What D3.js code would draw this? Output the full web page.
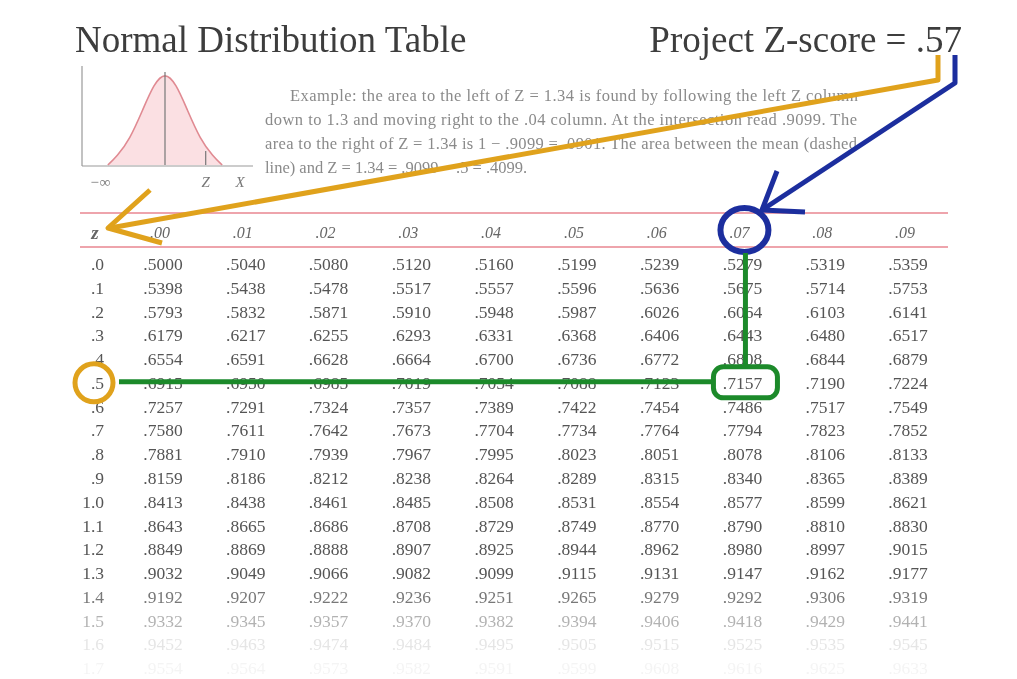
<!DOCTYPE html>
<html>
<head>
<meta charset="utf-8">
<script src="https://cdn.jsdelivr.net/npm/d3@7"></script>
<style>
  body { margin: 0; background: #fff; }
  svg { display: block; font-family: "Liberation Serif", "DejaVu Serif", serif; }
</style>
</head>
<body>
<svg id="chart" width="1017" height="679"></svg>
<script>
const rowLabels = ['.0', '.1', '.2', '.3', '.4', '.5', '.6', '.7', '.8', '.9',
  '1.0', '1.1', '1.2', '1.3', '1.4', '1.5', '1.6', '1.7'];
const colLabels = ['.00', '.01', '.02', '.03', '.04', '.05', '.06', '.07', '.08', '.09'];
const tableValues = [
  ['.5000', '.5040', '.5080', '.5120', '.5160', '.5199', '.5239', '.5279', '.5319', '.5359'],
  ['.5398', '.5438', '.5478', '.5517', '.5557', '.5596', '.5636', '.5675', '.5714', '.5753'],
  ['.5793', '.5832', '.5871', '.5910', '.5948', '.5987', '.6026', '.6064', '.6103', '.6141'],
  ['.6179', '.6217', '.6255', '.6293', '.6331', '.6368', '.6406', '.6443', '.6480', '.6517'],
  ['.6554', '.6591', '.6628', '.6664', '.6700', '.6736', '.6772', '.6808', '.6844', '.6879'],
  ['.6915', '.6950', '.6985', '.7019', '.7054', '.7088', '.7123', '.7157', '.7190', '.7224'],
  ['.7257', '.7291', '.7324', '.7357', '.7389', '.7422', '.7454', '.7486', '.7517', '.7549'],
  ['.7580', '.7611', '.7642', '.7673', '.7704', '.7734', '.7764', '.7794', '.7823', '.7852'],
  ['.7881', '.7910', '.7939', '.7967', '.7995', '.8023', '.8051', '.8078', '.8106', '.8133'],
  ['.8159', '.8186', '.8212', '.8238', '.8264', '.8289', '.8315', '.8340', '.8365', '.8389'],
  ['.8413', '.8438', '.8461', '.8485', '.8508', '.8531', '.8554', '.8577', '.8599', '.8621'],
  ['.8643', '.8665', '.8686', '.8708', '.8729', '.8749', '.8770', '.8790', '.8810', '.8830'],
  ['.8849', '.8869', '.8888', '.8907', '.8925', '.8944', '.8962', '.8980', '.8997', '.9015'],
  ['.9032', '.9049', '.9066', '.9082', '.9099', '.9115', '.9131', '.9147', '.9162', '.9177'],
  ['.9192', '.9207', '.9222', '.9236', '.9251', '.9265', '.9279', '.9292', '.9306', '.9319'],
  ['.9332', '.9345', '.9357', '.9370', '.9382', '.9394', '.9406', '.9418', '.9429', '.9441'],
  ['.9452', '.9463', '.9474', '.9484', '.9495', '.9505', '.9515', '.9525', '.9535', '.9545'],
  ['.9554', '.9564', '.9573', '.9582', '.9591', '.9599', '.9608', '.9616', '.9625', '.9633']
];
// bell curve icon (z, height)
const curvePoints = [[-2.6, 0], [-2.2, 0.035], [-1.6, 0.11], [-1, 0.24], [-0.5, 0.35],
  [0, 0.4], [0.5, 0.35], [1, 0.24], [1.6, 0.11], [2.2, 0.035], [2.6, 0]];
const zMark = 1.85;
const exampleLines = [
  'Example: the area to the left of Z = 1.34 is found by following the left Z column',
  'down to 1.3 and moving right to the .04 column. At the intersection read .9099. The',
  'area to the right of Z = 1.34 is 1 \u2212 .9099 = .0901. The area between the mean (dashed',
  'line) and Z = 1.34 = .9099 \u2212 .5 = .4099.'
];
const pickRow = '.5';
const pickCol = '.07';

const svg = d3.select('#chart');
const defs = svg.append('defs');
defs.append('filter').attr('id', 'soft')
  .append('feGaussianBlur').attr('stdDeviation', 0.6);

const textCol = '#555';

// titles
svg.append('text').attr('x', 75).attr('y', 52)
  .attr('font-size', 37).attr('fill', '#3c3c3c').attr('filter', 'url(#soft)')
  .text('Normal Distribution Table');
svg.append('text').attr('x', 962).attr('y', 52).attr('text-anchor', 'end')
  .attr('font-size', 37).attr('fill', '#3c3c3c').attr('filter', 'url(#soft)')
  .text('Project Z-score = .57');

// small bell curve
const icon = svg.append('g').attr('filter', 'url(#soft)');
const ix = d3.scaleLinear().domain([-3, 3]).range([99, 231]);
const iy = d3.scaleLinear().domain([0, 0.4]).range([165, 72]);
const area = d3.area().x(d => ix(d[0])).y0(iy(0)).y1(d => iy(d[1])).curve(d3.curveBasis);
const line = d3.line().x(d => ix(d[0])).y(d => iy(d[1])).curve(d3.curveBasis);
icon.append('path').attr('d', area(curvePoints)).attr('fill', '#fbe0e3');
icon.append('path').attr('d', line(curvePoints)).attr('fill', 'none')
  .attr('stroke', '#e08a92').attr('stroke-width', 1.6);
icon.append('line').attr('x1', 82).attr('x2', 82).attr('y1', 66).attr('y2', 166)
  .attr('stroke', '#999').attr('stroke-width', 1.2);
icon.append('line').attr('x1', 82).attr('x2', 253).attr('y1', 166).attr('y2', 166)
  .attr('stroke', '#999').attr('stroke-width', 1.2);
icon.append('line').attr('x1', ix(0)).attr('x2', ix(0)).attr('y1', iy(0.4)).attr('y2', iy(0))
  .attr('stroke', '#777').attr('stroke-width', 1.2);
icon.append('line').attr('x1', ix(zMark)).attr('x2', ix(zMark)).attr('y1', iy(0.06)).attr('y2', iy(0))
  .attr('stroke', '#777').attr('stroke-width', 1.2);
icon.selectAll('text.lab')
  .data([['\u2212\u221e', 100], ['Z', ix(zMark)], ['X', 240]])
  .enter().append('text').attr('class', 'lab')
  .attr('x', d => d[1]).attr('y', 187).attr('text-anchor', 'middle')
  .attr('font-size', 15).attr('font-style', 'italic').attr('fill', '#777')
  .text(d => d[0]);

// example paragraph
svg.append('g').attr('filter', 'url(#soft)')
  .selectAll('text').data(exampleLines).enter().append('text')
  .attr('x', (d, i) => i === 0 ? 290 : 265)
  .attr('y', (d, i) => 101 + i * 24)
  .attr('font-size', 16.5).attr('fill', '#8a8a8a')
  .attr('textLength', (d, i) => i === 3 ? null : (i === 0 ? 568 : 592))
  .attr('lengthAdjust', 'spacing')
  .text(d => d);

// table
const x = d3.scalePoint().domain(colLabels).range([163, 908]);
const y = d3.scalePoint().domain(rowLabels).range([264, 668]);
const headerY = 232;

const table = svg.append('g').attr('filter', 'url(#soft)');
[213, 247].forEach(yy => {
  table.append('line').attr('x1', 80).attr('x2', 948).attr('y1', yy).attr('y2', yy)
    .attr('stroke', '#eea4ac').attr('stroke-width', 2);
});
table.append('text').attr('x', 95).attr('y', headerY).attr('dy', '0.35em')
  .attr('text-anchor', 'middle').attr('font-size', 19).attr('font-style', 'italic')
  .attr('font-weight', 'bold').attr('fill', '#666').text('z');
table.selectAll('text.col').data(colLabels).enter().append('text').attr('class', 'col')
  .attr('x', d => x(d) - 3).attr('y', headerY).attr('dy', '0.35em')
  .attr('text-anchor', 'middle').attr('font-size', 16).attr('font-style', 'italic')
  .attr('fill', '#666').text(d => d);

const fade = i => i < 14 ? 1 : [0.8, 0.45, 0.15, 0.06][i - 14];

const rows = table.selectAll('g.row').data(tableValues).enter().append('g')
  .attr('class', 'row')
  .attr('opacity', (d, i) => fade(i));
rows.append('text')
  .attr('x', 104).attr('y', (d, i) => y(rowLabels[i])).attr('dy', '0.35em')
  .attr('text-anchor', 'end').attr('font-size', 17.5).attr('fill', textCol)
  .text((d, i) => rowLabels[i]);
rows.selectAll('text.v').data(d => d).enter().append('text').attr('class', 'v')
  .attr('x', (d, j) => x(colLabels[j]))
  .attr('y', function () { return y(rowLabels[tableValues.indexOf(d3.select(this.parentNode).datum())]); })
  .attr('dy', '0.35em').attr('text-anchor', 'middle')
  .attr('font-size', 17.5).attr('fill', textCol)
  .text(d => d);

// annotations
const ann = svg.append('g').attr('fill', 'none').attr('stroke-linecap', 'butt')
  .attr('stroke-linejoin', 'round').attr('filter', 'url(#soft)');
const orange = '#e0a21e';
const blue = '#1c2f9e';
const green = '#1d8a2c';
const px = x(pickCol);
const py = y(pickRow);

// orange: from the ".5" of the score down to the z header
ann.append('path')
  .attr('d', `M938,55 L938,80 L110,${headerY - 4}`)
  .attr('stroke', orange).attr('stroke-width', 5);
ann.append('path')
  .attr('d', `M150,190 L108,${headerY - 4} L162,243`)
  .attr('stroke', orange).attr('stroke-width', 5);
ann.append('circle').attr('cx', 94).attr('cy', py).attr('r', 19)
  .attr('stroke', orange).attr('stroke-width', 5);

// blue: from the "7" down to the .07 column
ann.append('path')
  .attr('d', 'M955,55 L955,83 L762,210')
  .attr('stroke', blue).attr('stroke-width', 5);
ann.append('path')
  .attr('d', 'M777,171 L762,210 L805,212')
  .attr('stroke', blue).attr('stroke-width', 5);
ann.append('ellipse').attr('cx', px + 2).attr('cy', headerY - 2).attr('rx', 24).attr('ry', 22)
  .attr('stroke', blue).attr('stroke-width', 6);

// green: row and column meet at .7157
ann.append('path')
  .attr('d', `M${px + 3},${headerY + 21} L${px + 3},${py - 16}`)
  .attr('stroke', green).attr('stroke-width', 5);
ann.append('path')
  .attr('d', `M119,${py - 1} L${px - 28},${py - 1}`)
  .attr('stroke', green).attr('stroke-width', 5);
ann.append('rect').attr('x', px - 29).attr('y', py - 16).attr('width', 64).attr('height', 31)
  .attr('rx', 10).attr('stroke', green).attr('stroke-width', 5);
</script>
</body>
</html>
